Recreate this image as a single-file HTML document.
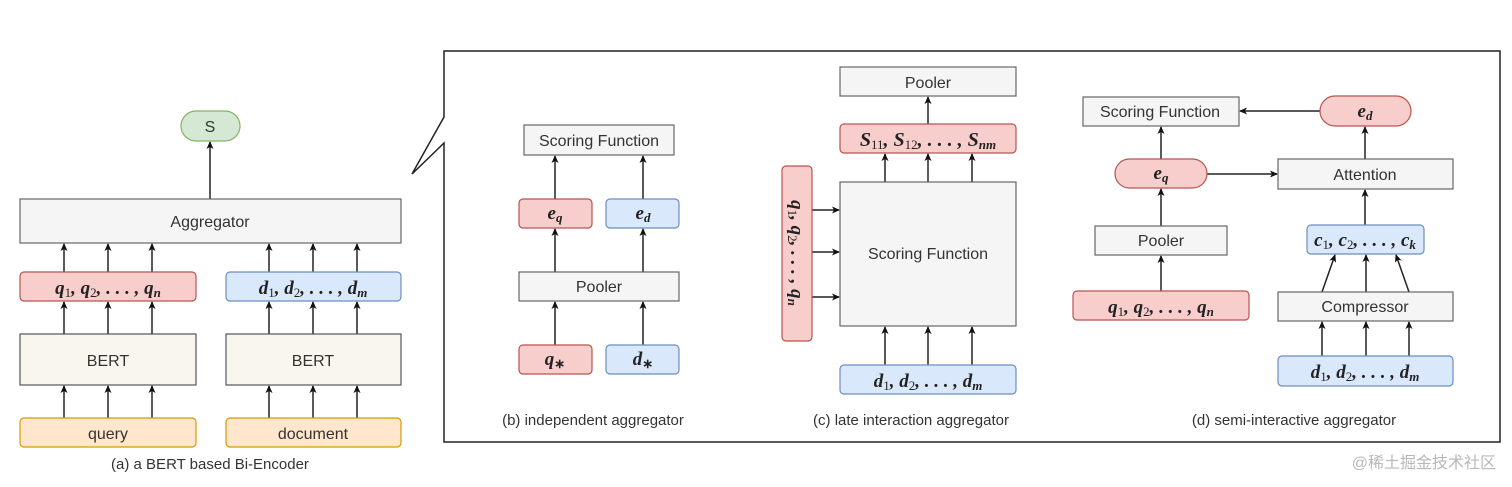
<!DOCTYPE html>
<html><head><meta charset="utf-8"><style>
html,body{margin:0;padding:0;background:#fff}
svg{display:block}
.s{font-family:"Liberation Sans",sans-serif;fill:#333}
.m{font-family:"Liberation Serif",serif;font-style:italic;fill:#222;font-weight:bold}
</style></head><body>
<svg width="1512" height="487" viewBox="0 0 1512 487" xmlns="http://www.w3.org/2000/svg">
<defs><marker id="a" markerWidth="8" markerHeight="8" refX="7" refY="4" orient="auto" markerUnits="userSpaceOnUse"><path d="M0,0.5 L8,4 L0,7.5 L2,4 z" fill="#111"/></marker></defs>
<g stroke="#222" stroke-width="1.5" fill="none" marker-end="url(#a)">
<line x1="210" y1="199" x2="210" y2="142"/>
<line x1="64" y1="272" x2="64" y2="244"/><line x1="108" y1="272" x2="108" y2="244"/><line x1="152" y1="272" x2="152" y2="244"/>
<line x1="269" y1="272" x2="269" y2="244"/><line x1="313" y1="272" x2="313" y2="244"/><line x1="357" y1="272" x2="357" y2="244"/>
<line x1="64" y1="334" x2="64" y2="302"/><line x1="108" y1="334" x2="108" y2="302"/><line x1="152" y1="334" x2="152" y2="302"/>
<line x1="269" y1="334" x2="269" y2="302"/><line x1="313" y1="334" x2="313" y2="302"/><line x1="357" y1="334" x2="357" y2="302"/>
<line x1="64" y1="418" x2="64" y2="386"/><line x1="108" y1="418" x2="108" y2="386"/><line x1="152" y1="418" x2="152" y2="386"/>
<line x1="269" y1="418" x2="269" y2="386"/><line x1="313" y1="418" x2="313" y2="386"/><line x1="357" y1="418" x2="357" y2="386"/>
<line x1="555" y1="199" x2="555" y2="156"/><line x1="643" y1="199" x2="643" y2="156"/>
<line x1="555" y1="272" x2="555" y2="229"/><line x1="643" y1="272" x2="643" y2="229"/>
<line x1="555" y1="345" x2="555" y2="302"/><line x1="643" y1="345" x2="643" y2="302"/>
<line x1="928" y1="124" x2="928" y2="97"/>
<line x1="885" y1="182" x2="885" y2="154"/><line x1="928" y1="182" x2="928" y2="154"/><line x1="972" y1="182" x2="972" y2="154"/>
<line x1="885" y1="365" x2="885" y2="327"/><line x1="928" y1="365" x2="928" y2="327"/><line x1="972" y1="365" x2="972" y2="327"/>
<line x1="812" y1="210" x2="839" y2="210"/><line x1="812" y1="252" x2="839" y2="252"/><line x1="812" y1="297" x2="839" y2="297"/>
<line x1="1320" y1="111" x2="1240" y2="111"/>
<line x1="1161" y1="159" x2="1161" y2="127"/>
<line x1="1207" y1="174" x2="1277" y2="174"/>
<line x1="1365" y1="159" x2="1365" y2="127"/>
<line x1="1161" y1="226" x2="1161" y2="189"/>
<line x1="1365" y1="225" x2="1365" y2="190"/>
<line x1="1161" y1="291" x2="1161" y2="256"/>
<line x1="1322" y1="292" x2="1335" y2="255"/><line x1="1366" y1="292" x2="1366" y2="255"/><line x1="1409" y1="292" x2="1396" y2="255"/>
<line x1="1322" y1="356" x2="1322" y2="322"/><line x1="1366" y1="356" x2="1366" y2="322"/><line x1="1409" y1="356" x2="1409" y2="322"/>
</g>
<path d="M444,117 L444,51 L1500,51 L1500,442 L444,442 L444,143 L412,174 Z" fill="none" stroke="#222" stroke-width="1.5"/>
<rect x="181" y="111" width="59" height="30" rx="15" fill="#d5e8d4" stroke="#82b366" stroke-width="1.2"/>
<text x="210" y="132" class="s" font-size="16" text-anchor="middle">S</text>
<rect x="20" y="199" width="381" height="44" fill="#f5f5f5" stroke="#666" stroke-width="1.2"/>
<text x="210" y="227" class="s" font-size="16" text-anchor="middle">Aggregator</text>
<rect x="20" y="272" width="176" height="29" rx="4" fill="#f8cecc" stroke="#b85450" stroke-width="1.2"/>
<text x="108" y="294" class="m" font-size="19" text-anchor="middle">q<tspan font-style="normal" font-weight="normal" font-size="13" dy="3">1</tspan><tspan dy="-3">, q</tspan><tspan font-style="normal" font-weight="normal" font-size="13" dy="3">2</tspan><tspan dy="-3">, . . . , q</tspan><tspan font-size="13" dy="3">n</tspan></text>
<rect x="226" y="272" width="175" height="29" rx="4" fill="#dae8fc" stroke="#6c8ebf" stroke-width="1.2"/>
<text x="313" y="294" class="m" font-size="19" text-anchor="middle">d<tspan font-style="normal" font-weight="normal" font-size="13" dy="3">1</tspan><tspan dy="-3">, d</tspan><tspan font-style="normal" font-weight="normal" font-size="13" dy="3">2</tspan><tspan dy="-3">, . . . , d</tspan><tspan font-size="13" dy="3">m</tspan></text>
<rect x="20" y="334" width="176" height="51" fill="#f9f7ed" stroke="#555" stroke-width="1.2"/>
<text x="108" y="366" class="s" font-size="16" text-anchor="middle">BERT</text>
<rect x="226" y="334" width="175" height="51" fill="#f9f7ed" stroke="#555" stroke-width="1.2"/>
<text x="313" y="366" class="s" font-size="16" text-anchor="middle">BERT</text>
<rect x="20" y="418" width="176" height="29" rx="4" fill="#ffe6cc" stroke="#d79b00" stroke-width="1.2"/>
<text x="108" y="439" class="s" font-size="16" text-anchor="middle">query</text>
<rect x="226" y="418" width="175" height="29" rx="4" fill="#ffe6cc" stroke="#d79b00" stroke-width="1.2"/>
<text x="313" y="439" class="s" font-size="16" text-anchor="middle">document</text>
<text x="210" y="469" class="s" font-size="15" text-anchor="middle">(a) a BERT based Bi-Encoder</text>
<rect x="524" y="125" width="150" height="30" fill="#f5f5f5" stroke="#666" stroke-width="1.2"/>
<text x="599" y="146" class="s" font-size="16" text-anchor="middle">Scoring Function</text>
<rect x="519" y="199" width="73" height="29" rx="4" fill="#f8cecc" stroke="#b85450" stroke-width="1.2"/>
<text x="555" y="219" class="m" font-size="19" text-anchor="middle">e<tspan font-size="13" dy="3">q</tspan></text>
<rect x="606" y="199" width="73" height="29" rx="4" fill="#dae8fc" stroke="#6c8ebf" stroke-width="1.2"/>
<text x="643" y="219" class="m" font-size="19" text-anchor="middle">e<tspan font-size="13" dy="3">d</tspan></text>
<rect x="519" y="272" width="160" height="29" fill="#f5f5f5" stroke="#666" stroke-width="1.2"/>
<text x="599" y="292" class="s" font-size="16" text-anchor="middle">Pooler</text>
<rect x="519" y="345" width="73" height="29" rx="4" fill="#f8cecc" stroke="#b85450" stroke-width="1.2"/>
<text x="555" y="365" class="m" font-size="19" text-anchor="middle">q<tspan font-style="normal" font-size="13" dy="3">∗</tspan></text>
<rect x="606" y="345" width="73" height="29" rx="4" fill="#dae8fc" stroke="#6c8ebf" stroke-width="1.2"/>
<text x="643" y="365" class="m" font-size="19" text-anchor="middle">d<tspan font-style="normal" font-size="13" dy="3">∗</tspan></text>
<text x="593" y="425" class="s" font-size="15" text-anchor="middle">(b) independent  aggregator</text>
<rect x="840" y="67" width="176" height="29" fill="#f5f5f5" stroke="#666" stroke-width="1.2"/>
<text x="928" y="88" class="s" font-size="16" text-anchor="middle">Pooler</text>
<rect x="840" y="124" width="176" height="29" rx="4" fill="#f8cecc" stroke="#b85450" stroke-width="1.2"/>
<text x="928" y="146" class="m" font-size="20" text-anchor="middle">S<tspan font-style="normal" font-weight="normal" font-size="13" dy="3">11</tspan><tspan dy="-3">, S</tspan><tspan font-style="normal" font-weight="normal" font-size="13" dy="3">12</tspan><tspan dy="-3">, . . . , S</tspan><tspan font-size="13" dy="3">nm</tspan></text>
<rect x="840" y="182" width="176" height="144" fill="#f5f5f5" stroke="#666" stroke-width="1.2"/>
<text x="928" y="259" class="s" font-size="16" text-anchor="middle">Scoring Function</text>
<rect x="782" y="166" width="30" height="175" rx="4" fill="#f8cecc" stroke="#b85450" stroke-width="1.2"/>
<text x="0" y="0" transform="translate(791,253) rotate(90)" class="m" font-size="19" text-anchor="middle">q<tspan font-style="normal" font-weight="normal" font-size="13" dy="3">1</tspan><tspan dy="-3">, q</tspan><tspan font-style="normal" font-weight="normal" font-size="13" dy="3">2</tspan><tspan dy="-3">, . . . , q</tspan><tspan font-size="13" dy="3">n</tspan></text>
<rect x="840" y="365" width="176" height="29" rx="4" fill="#dae8fc" stroke="#6c8ebf" stroke-width="1.2"/>
<text x="928" y="387" class="m" font-size="19" text-anchor="middle">d<tspan font-style="normal" font-weight="normal" font-size="13" dy="3">1</tspan><tspan dy="-3">, d</tspan><tspan font-style="normal" font-weight="normal" font-size="13" dy="3">2</tspan><tspan dy="-3">, . . . , d</tspan><tspan font-size="13" dy="3">m</tspan></text>
<text x="911" y="425" class="s" font-size="15" text-anchor="middle">(c) late interaction aggregator</text>
<rect x="1083" y="97" width="156" height="29" fill="#f5f5f5" stroke="#666" stroke-width="1.2"/>
<text x="1160" y="117" class="s" font-size="16" text-anchor="middle">Scoring Function</text>
<rect x="1320" y="96" width="91" height="30" rx="15" fill="#f8cecc" stroke="#b85450" stroke-width="1.2"/>
<text x="1365" y="117" class="m" font-size="19" text-anchor="middle">e<tspan font-size="13" dy="3">d</tspan></text>
<rect x="1115" y="159" width="92" height="29" rx="14.5" fill="#f8cecc" stroke="#b85450" stroke-width="1.2"/>
<text x="1161" y="179" class="m" font-size="19" text-anchor="middle">e<tspan font-size="13" dy="3">q</tspan></text>
<rect x="1278" y="159" width="175" height="30" fill="#f5f5f5" stroke="#666" stroke-width="1.2"/>
<text x="1365" y="180" class="s" font-size="16" text-anchor="middle">Attention</text>
<rect x="1095" y="226" width="132" height="29" fill="#f5f5f5" stroke="#666" stroke-width="1.2"/>
<text x="1161" y="246" class="s" font-size="16" text-anchor="middle">Pooler</text>
<rect x="1307" y="225" width="117" height="29" rx="4" fill="#dae8fc" stroke="#6c8ebf" stroke-width="1.2"/>
<text x="1365" y="246" class="m" font-size="19" text-anchor="middle">c<tspan font-style="normal" font-weight="normal" font-size="13" dy="3">1</tspan><tspan dy="-3">, c</tspan><tspan font-style="normal" font-weight="normal" font-size="13" dy="3">2</tspan><tspan dy="-3">, . . . , c</tspan><tspan font-size="13" dy="3">k</tspan></text>
<rect x="1073" y="291" width="176" height="29" rx="4" fill="#f8cecc" stroke="#b85450" stroke-width="1.2"/>
<text x="1161" y="313" class="m" font-size="19" text-anchor="middle">q<tspan font-style="normal" font-weight="normal" font-size="13" dy="3">1</tspan><tspan dy="-3">, q</tspan><tspan font-style="normal" font-weight="normal" font-size="13" dy="3">2</tspan><tspan dy="-3">, . . . , q</tspan><tspan font-size="13" dy="3">n</tspan></text>
<rect x="1278" y="292" width="175" height="29" fill="#f5f5f5" stroke="#666" stroke-width="1.2"/>
<text x="1365" y="312" class="s" font-size="16" text-anchor="middle">Compressor</text>
<rect x="1278" y="356" width="175" height="30" rx="4" fill="#dae8fc" stroke="#6c8ebf" stroke-width="1.2"/>
<text x="1365" y="378" class="m" font-size="19" text-anchor="middle">d<tspan font-style="normal" font-weight="normal" font-size="13" dy="3">1</tspan><tspan dy="-3">, d</tspan><tspan font-style="normal" font-weight="normal" font-size="13" dy="3">2</tspan><tspan dy="-3">, . . . , d</tspan><tspan font-size="13" dy="3">m</tspan></text>
<text x="1294" y="425" class="s" font-size="15" text-anchor="middle">(d) semi-interactive aggregator</text>
<text x="1496" y="468" font-family="'Liberation Sans','Noto Sans CJK SC',sans-serif" font-size="16" fill="#b8b8b8" text-anchor="end">@稀土掘金技术社区</text>
</svg>
</body></html>
